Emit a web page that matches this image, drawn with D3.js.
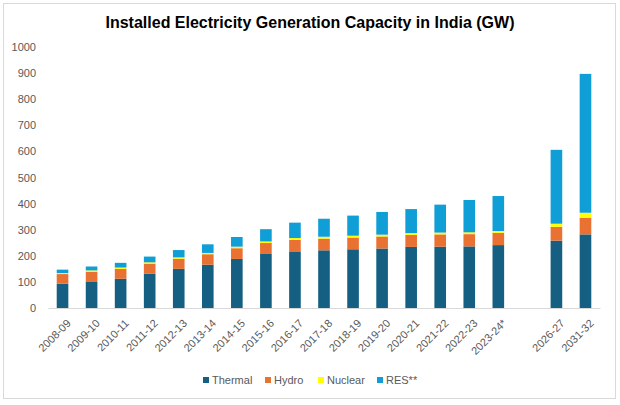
<!DOCTYPE html>
<html lang="en">
<head>
    <meta charset="UTF-8">
    <title>Installed Electricity Generation Capacity in India (GW)</title>
    <script src="https://cdnjs.cloudflare.com/ajax/libs/d3/7.8.5/d3.min.js"></script>
    <style>
        body { margin: 0; background: #fff; }
        svg { display: block; font-family: "Liberation Sans", Arial, sans-serif; }
    </style>
</head>
<body>
    <div id="chart"></div>
    <script>
        // years, with an empty slot between actuals and projections
        const years = ["2008-09", "2009-10", "2010-11", "2011-12", "2012-13", "2013-14", "2014-15",
            "2015-16", "2016-17", "2017-18", "2018-19", "2019-20", "2020-21", "2021-22", "2022-23",
            "2023-24*", "", "2026-27", "2031-32"];
        const thermal = [93, 102, 112, 131, 150, 166, 188, 207, 217, 221, 225, 228, 234, 235, 236, 241, null, 258, 282];
        const hydro   = [37, 37, 38, 39, 39, 40, 41, 42, 44, 45, 45, 46, 46, 47, 47, 47, null, 53, 64];
        const nuclear = [4, 5, 5, 5, 5, 5, 6, 6, 7, 7, 7, 7, 7, 7, 7, 7, null, 12, 19];
        const res     = [13, 15, 18, 22, 28, 33, 37, 47, 59, 69, 77, 87, 92, 107, 124, 134, null, 283, 532];
        const yTicks = [0, 100, 200, 300, 400, 500, 600, 700, 800, 900, 1000];

        const seriesNames = ["Thermal", "Hydro", "Nuclear", "RES**"];
        const colors = ["#156082", "#E97132", "#FFFF00", "#0F9ED5"];

        const W = 620, H = 405;
        const margin = { top: 47, right: 20, bottom: 97, left: 48 };

        const svg = d3.select("#chart").append("svg")
            .attr("width", W).attr("height", H);

        // chart border
        svg.append("rect")
            .attr("x", 3.5).attr("y", 3.5)
            .attr("width", 612).attr("height", 395)
            .attr("fill", "#fff").attr("stroke", "#d9d9d9");

        svg.append("text")
            .attr("x", 310).attr("y", 28)
            .attr("text-anchor", "middle")
            .attr("font-size", 16).attr("font-weight", "bold")
            .attr("fill", "#000")
            .text("Installed Electricity Generation Capacity in India (GW)");

        const x = d3.scaleBand()
            .domain(years.map((d, i) => i))
            .range([margin.left, W - margin.right])
            .paddingInner(0.6).paddingOuter(0.3);

        const y = d3.scaleLinear()
            .domain([0, 1000])
            .range([H - margin.bottom, margin.top]);

        const rows = years.map((yr, i) => ({
            i, yr, Thermal: thermal[i] || 0, Hydro: hydro[i] || 0, Nuclear: nuclear[i] || 0, "RES**": res[i] || 0
        }));
        const stacked = d3.stack().keys(seriesNames)(rows);

        // y axis labels
        const yAxis = d3.axisLeft(y).tickValues(yTicks).tickFormat(d3.format("d")).tickSize(0).tickPadding(12);
        svg.append("g")
            .attr("transform", `translate(${margin.left},0)`)
            .call(yAxis)
            .call(g => g.select(".domain").remove())
            .call(g => g.selectAll("text")
                .attr("font-size", 11).attr("fill", "#595959")
                .attr("font-family", "Liberation Sans, Arial, sans-serif"));

        svg.append("g")
            .selectAll("g")
            .data(stacked)
            .join("g")
            .attr("fill", (d, i) => colors[i])
            .selectAll("rect")
            .data(d => d.filter(p => years[p.data.i] !== ""))
            .join("rect")
            .attr("x", d => x(d.data.i))
            .attr("width", x.bandwidth())
            .attr("y", d => y(d[1]))
            .attr("height", d => y(d[0]) - y(d[1]));

        // x axis
        const xAxis = d3.axisBottom(x).tickSize(0).tickPadding(0).tickFormat(i => years[i]);
        svg.append("g")
            .attr("transform", `translate(0,${y(0)})`)
            .call(xAxis)
            .call(g => g.select(".domain").attr("stroke", "#d9d9d9"))
            .call(g => g.selectAll("text")
                .attr("y", 0).attr("dy", 0)
                .attr("font-size", 11).attr("fill", "#595959")
                .attr("font-family", "Liberation Sans, Arial, sans-serif")
                .attr("text-anchor", "end")
                .attr("transform", "translate(9,16) rotate(-45)"));

        // legend
        const legendX = [203, 265, 318, 377];
        const legend = svg.append("g").attr("transform", "translate(0,380)");
        seriesNames.forEach((name, i) => {
            legend.append("rect")
                .attr("x", legendX[i]).attr("y", -3)
                .attr("width", 6).attr("height", 6)
                .attr("fill", colors[i]);
            legend.append("text")
                .attr("x", legendX[i] + 9).attr("y", 0)
                .attr("dy", "0.35em")
                .attr("font-size", 11).attr("fill", "#595959")
                .text(name);
        });
    </script>
</body>
</html>
